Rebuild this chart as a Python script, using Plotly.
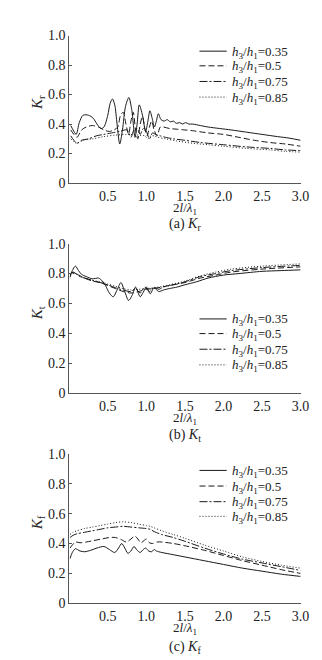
import plotly.graph_objects as go

# ---------------- data ----------------
series_names = ["<i>h</i><sub>3</sub>/<i>h</i><sub>1</sub>=0.35",
                "<i>h</i><sub>3</sub>/<i>h</i><sub>1</sub>=0.5",
                "<i>h</i><sub>3</sub>/<i>h</i><sub>1</sub>=0.75",
                "<i>h</i><sub>3</sub>/<i>h</i><sub>1</sub>=0.85"]

# (a) Kr
kr_x_035 = [0.02, 0.05, 0.09, 0.13, 0.18, 0.25, 0.31, 0.36, 0.41, 0.45, 0.50, 0.53, 0.56, 0.59, 0.62, 0.655,
            0.69, 0.73, 0.773, 0.81, 0.853, 0.88, 0.908, 0.95, 0.99, 1.02, 1.046, 1.075, 1.105, 1.13, 1.155,
            1.19, 1.23, 1.27, 1.31, 1.35, 1.39, 1.43, 1.47, 1.51, 1.55, 1.60, 1.70, 1.80, 1.95, 2.1, 2.3, 2.5,
            2.7, 2.85, 3.0]
kr_y_035 = [0.39, 0.36, 0.33, 0.41, 0.46, 0.46, 0.44, 0.40, 0.37, 0.38, 0.46, 0.54, 0.57, 0.53, 0.40, 0.265,
            0.36, 0.52, 0.58, 0.50, 0.31, 0.40, 0.53, 0.46, 0.35, 0.42, 0.49, 0.44, 0.38, 0.42, 0.47,
            0.43, 0.42, 0.43, 0.415, 0.42, 0.405, 0.41, 0.40, 0.41, 0.40, 0.40, 0.39, 0.38, 0.37, 0.36, 0.345,
            0.33, 0.315, 0.305, 0.29]

kr_x_05 = [0.02, 0.06, 0.10, 0.16, 0.22, 0.30, 0.38, 0.45, 0.52, 0.58, 0.63, 0.665, 0.70, 0.735, 0.77, 0.80,
           0.83, 0.86, 0.89, 0.92, 0.95, 0.98, 1.01, 1.04, 1.07, 1.10, 1.14, 1.18, 1.22, 1.30, 1.40, 1.50,
           1.60, 1.80, 2.0, 2.2, 2.4, 2.6, 2.8, 3.0]
kr_y_05 = [0.36, 0.33, 0.31, 0.36, 0.38, 0.39, 0.38, 0.36, 0.35, 0.36, 0.38, 0.46, 0.48, 0.40, 0.33, 0.42,
           0.48, 0.36, 0.30, 0.40, 0.45, 0.37, 0.32, 0.38, 0.42, 0.36, 0.32, 0.38, 0.38, 0.37, 0.365, 0.36,
           0.355, 0.34, 0.33, 0.31, 0.29, 0.275, 0.265, 0.25]

kr_x_075 = [0.02, 0.06, 0.10, 0.16, 0.25, 0.35, 0.45, 0.55, 0.65, 0.75, 0.80, 0.84, 0.88, 0.92, 0.96, 1.00,
            1.04, 1.08, 1.12, 1.18, 1.25, 1.35, 1.50, 1.70, 2.0, 2.3, 2.6, 2.8, 3.0]
kr_y_075 = [0.32, 0.29, 0.27, 0.29, 0.30, 0.32, 0.33, 0.34, 0.35, 0.36, 0.31, 0.36, 0.37, 0.33, 0.37, 0.35,
            0.30, 0.34, 0.33, 0.32, 0.31, 0.30, 0.29, 0.275, 0.26, 0.245, 0.235, 0.225, 0.22]

kr_x_085 = [0.02, 0.06, 0.10, 0.18, 0.30, 0.45, 0.60, 0.75, 0.90, 0.98, 1.02, 1.06, 1.10, 1.15, 1.25, 1.40,
            1.60, 1.80, 2.0, 2.3, 2.6, 2.8, 3.0]
kr_y_085 = [0.30, 0.28, 0.27, 0.29, 0.30, 0.315, 0.325, 0.33, 0.325, 0.32, 0.30, 0.32, 0.32, 0.31, 0.30, 0.285,
            0.27, 0.26, 0.25, 0.235, 0.225, 0.215, 0.21]

# (b) Kt
kt_x_035 = [0.01, 0.04, 0.08, 0.12, 0.16, 0.22, 0.30, 0.38, 0.43, 0.47, 0.52, 0.57, 0.62, 0.67, 0.72, 0.77,
            0.82, 0.86, 0.92, 0.96, 1.00, 1.05, 1.10, 1.16, 1.22, 1.30, 1.40, 1.50, 1.65, 1.80, 2.0, 2.2, 2.5,
            2.75, 3.0]
kt_y_035 = [0.775, 0.82, 0.85, 0.82, 0.795, 0.78, 0.765, 0.77, 0.75, 0.72, 0.67, 0.645, 0.69, 0.74, 0.68, 0.62,
            0.66, 0.71, 0.645, 0.675, 0.71, 0.665, 0.705, 0.68, 0.69, 0.70, 0.71, 0.725, 0.745, 0.77, 0.79, 0.80,
            0.815, 0.82, 0.825]

kt_x_05 = [0.01, 0.05, 0.09, 0.14, 0.20, 0.30, 0.40, 0.50, 0.60, 0.70, 0.80, 0.90, 1.00, 1.10, 1.20, 1.30,
           1.50, 1.70, 1.90, 2.10, 2.50, 3.0]
kt_y_05 = [0.79, 0.81, 0.80, 0.785, 0.77, 0.75, 0.74, 0.72, 0.70, 0.68, 0.67, 0.68, 0.695, 0.70, 0.71, 0.72,
           0.74, 0.77, 0.79, 0.81, 0.83, 0.845]

kt_x_075 = [0.01, 0.05, 0.09, 0.14, 0.20, 0.30, 0.40, 0.50, 0.60, 0.70, 0.80, 0.86, 0.92, 0.98, 1.04, 1.10,
            1.16, 1.22, 1.30, 1.50, 1.70, 1.90, 2.10, 2.50, 3.0]
kt_y_075 = [0.80, 0.805, 0.80, 0.78, 0.77, 0.755, 0.74, 0.725, 0.705, 0.69, 0.68, 0.70, 0.67, 0.71, 0.68, 0.71,
            0.695, 0.71, 0.72, 0.745, 0.78, 0.80, 0.82, 0.84, 0.855]

kt_x_085 = [0.01, 0.05, 0.09, 0.14, 0.20, 0.30, 0.40, 0.50, 0.60, 0.70, 0.80, 0.90, 1.00, 1.10, 1.20, 1.30,
            1.50, 1.70, 1.90, 2.10, 2.50, 3.0]
kt_y_085 = [0.80, 0.80, 0.795, 0.78, 0.77, 0.755, 0.745, 0.73, 0.715, 0.70, 0.69, 0.695, 0.70, 0.705, 0.715, 0.725,
            0.75, 0.785, 0.81, 0.83, 0.85, 0.865]

# (c) Kf
kf_x_035 = [0.01, 0.04, 0.08, 0.14, 0.20, 0.28, 0.36, 0.45, 0.52, 0.59, 0.64, 0.68, 0.72, 0.76, 0.80, 0.84,
            0.88, 0.92, 0.96, 0.99, 1.03, 1.07, 1.10, 1.13, 1.16, 1.20, 1.35, 1.50, 1.75, 2.0, 2.25, 2.5, 2.75,
            3.0]
kf_y_035 = [0.30, 0.34, 0.365, 0.35, 0.345, 0.355, 0.37, 0.38, 0.36, 0.34, 0.37, 0.40, 0.37, 0.335, 0.35, 0.38,
            0.355, 0.34, 0.36, 0.37, 0.35, 0.345, 0.36, 0.35, 0.345, 0.34, 0.325, 0.31, 0.285, 0.26, 0.235, 0.215,
            0.195, 0.18]

kf_x_05 = [0.01, 0.04, 0.08, 0.14, 0.22, 0.32, 0.42, 0.52, 0.60, 0.68, 0.74, 0.80, 0.85, 0.89, 0.93, 0.97,
           1.00, 1.04, 1.08, 1.14, 1.20, 1.35, 1.50, 1.75, 2.0, 2.25, 2.5, 2.75, 3.0]
kf_y_05 = [0.37, 0.39, 0.41, 0.405, 0.41, 0.42, 0.43, 0.44, 0.44, 0.425, 0.41, 0.43, 0.45, 0.43, 0.405, 0.42,
           0.43, 0.405, 0.40, 0.41, 0.41, 0.40, 0.385, 0.355, 0.32, 0.285, 0.255, 0.225, 0.20]

kf_x_075 = [0.01, 0.05, 0.10, 0.20, 0.30, 0.40, 0.50, 0.60, 0.70, 0.80, 0.90, 1.00, 1.05, 1.10, 1.20, 1.35,
            1.50, 1.75, 2.0, 2.25, 2.5, 2.75, 3.0]
kf_y_075 = [0.44, 0.455, 0.465, 0.475, 0.485, 0.495, 0.505, 0.51, 0.515, 0.51, 0.505, 0.50, 0.495, 0.48, 0.46, 0.44,
            0.415, 0.37, 0.33, 0.295, 0.27, 0.245, 0.22]

kf_x_085 = [0.01, 0.05, 0.10, 0.20, 0.30, 0.40, 0.50, 0.60, 0.70, 0.80, 0.90, 1.00, 1.05, 1.10, 1.20, 1.35,
            1.50, 1.75, 2.0, 2.25, 2.5, 2.75, 3.0]
kf_y_085 = [0.46, 0.475, 0.485, 0.50, 0.51, 0.52, 0.53, 0.54, 0.545, 0.54, 0.53, 0.52, 0.515, 0.505, 0.485, 0.46,
            0.435, 0.39, 0.35, 0.31, 0.28, 0.255, 0.235]

x_tickvals = [0.5, 1.0, 1.5, 2.0, 2.5, 3.0]
x_ticktext = ["0.5", "1.0", "1.5", "2.0", "2.5", "3.0"]
y_tickvals = [0, 0.2, 0.4, 0.6, 0.8, 1.0]
y_ticktext = ["0", "0.2", "0.4", "0.6", "0.8", "1.0"]

y_titles = ["<i>K</i><sub>r</sub>", "<i>K</i><sub>t</sub>", "<i>K</i><sub>f</sub>"]
captions = ["(a) <i>K</i><sub>r</sub>", "(b) <i>K</i><sub>t</sub>", "(c) <i>K</i><sub>f</sub>"]
x_title = "2<i>l</i>/<i>λ</i><sub>1</sub>"

panels = [
    [(kr_x_035, kr_y_035), (kr_x_05, kr_y_05), (kr_x_075, kr_y_075), (kr_x_085, kr_y_085)],
    [(kt_x_035, kt_y_035), (kt_x_05, kt_y_05), (kt_x_075, kt_y_075), (kt_x_085, kt_y_085)],
    [(kf_x_035, kf_y_035), (kf_x_05, kf_y_05), (kf_x_075, kf_y_075), (kf_x_085, kf_y_085)],
]

# ---------------- styling ----------------
W, H = 322, 660
FONT = "Liberation Serif"
TXT = "#222222"
LINE_COLOR = "#1a1a1a"
AXIS_COLOR = "#555555"
dashes = ["solid", "6px,3px", "8px,2px,2px,2px", "1px,2px"]

px_left, px_right = 63, 301
panel_px = [(21, 172), (234, 387), (449, 602)]
legend_rows_px = [[37, 52, 68, 84], [311, 326, 342, 358], [466, 482, 498, 513]]
legend_line_px = (197, 225)
legend_text_px = 228
ytitle_px = [90, 305, 520]
xtitle_px = [198, 413, 628]
caption_px = [214, 430, 647]


def py(p):
    return 1 - p / H


def px(p):
    return p / W


fig = go.Figure()
for i, series in enumerate(panels):
    suffix = "" if i == 0 else str(i + 1)
    for j, (xs, ys) in enumerate(series):
        fig.add_trace(go.Scatter(
            x=xs, y=ys, mode="lines", name=series_names[j],
            line=dict(color=LINE_COLOR, width=1.0, dash=dashes[j], shape="spline", smoothing=0.8),
            xaxis="x" + suffix, yaxis="y" + suffix, showlegend=False,
        ))

layout = dict(
    width=W, height=H, margin=dict(l=0, r=0, t=0, b=0),
    paper_bgcolor="white", plot_bgcolor="white",
    font=dict(family=FONT, size=14, color=TXT),
    annotations=[], shapes=[],
)
axis_common = dict(showline=True, linecolor=AXIS_COLOR, linewidth=1, showgrid=False, zeroline=False,
                   tickfont=dict(family=FONT, size=14, color=TXT))
for i in range(3):
    suffix = "" if i == 0 else str(i + 1)
    top, bottom = panel_px[i]
    layout["xaxis" + suffix] = dict(
        axis_common, domain=[px(px_left), px(px_right)], range=[0, 3],
        anchor="y" + suffix, tickvals=x_tickvals, ticktext=x_ticktext, ticks="", ticklen=0,
    )
    layout["yaxis" + suffix] = dict(
        axis_common, domain=[py(bottom), py(top)], range=[0, 1],
        anchor="x" + suffix, tickvals=y_tickvals, ticktext=y_ticktext,
        ticks="inside", ticklen=3, tickcolor=AXIS_COLOR,
    )
    # legend (drawn as key lines + labels)
    for j, row in enumerate(legend_rows_px[i]):
        layout["shapes"].append(dict(
            type="line", xref="paper", yref="paper",
            x0=px(legend_line_px[0]), x1=px(legend_line_px[1]), y0=py(row), y1=py(row),
            line=dict(color=LINE_COLOR, width=1.0, dash=dashes[j]),
        ))
        layout["annotations"].append(dict(
            text=series_names[j], x=px(legend_text_px), y=py(row + 1), xref="paper", yref="paper",
            showarrow=False, xanchor="left", yanchor="middle",
            font=dict(family=FONT, size=13, color=TXT),
        ))
    layout["annotations"] += [
        dict(text=y_titles[i], x=px(31), y=py(ytitle_px[i]), xref="paper", yref="paper",
             showarrow=False, textangle=-90, font=dict(family=FONT, size=15, color=TXT),
             xanchor="center", yanchor="middle"),
        dict(text=x_title, x=px(182), y=py(xtitle_px[i]), xref="paper", yref="paper",
             showarrow=False, font=dict(family=FONT, size=13, color=TXT),
             xanchor="center", yanchor="middle"),
        dict(text=captions[i], x=px(182), y=py(caption_px[i]), xref="paper", yref="paper",
             showarrow=False, font=dict(family=FONT, size=14, color=TXT),
             xanchor="center", yanchor="middle"),
    ]

fig.update_layout(**layout)
fig.write_html("out.html")
